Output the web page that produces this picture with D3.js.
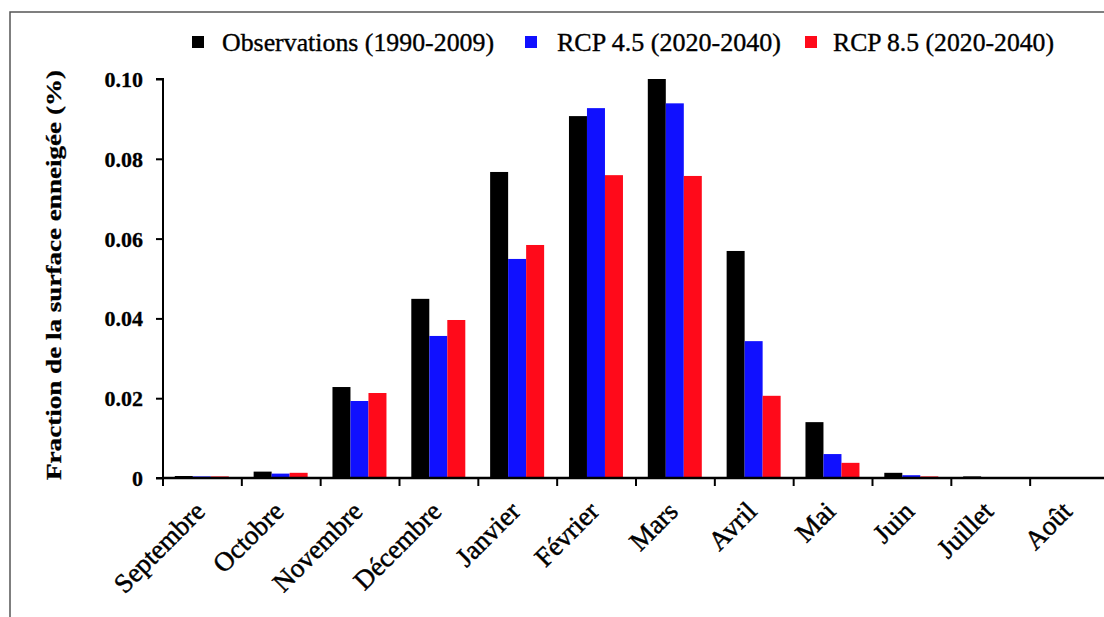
<!DOCTYPE html>
<html><head><meta charset="utf-8">
<script src="https://cdn.jsdelivr.net/npm/d3@7/dist/d3.min.js"></script>
<style>body{margin:0;background:#fff}svg{display:block}</style>
</head><body><svg id="c" width="1104" height="617"></svg>
<script>
const months = ["Septembre","Octobre","Novembre","Décembre","Janvier","Février","Mars","Avril","Mai","Juin","Juillet","Août"];
const seriesNames = ["Observations (1990-2009)","RCP 4.5 (2020-2040)","RCP 8.5 (2020-2040)"];
const seriesColors = ["#000000","#1010ff","#ff0a1a"];
const observations = [0.0005,0.0016,0.0228,0.0449,0.0767,0.0907,0.1000,0.0569,0.0140,0.0013,0.0004,0.0001];
const rcp45 =        [0.0004,0.0011,0.0193,0.0356,0.0549,0.0927,0.0939,0.0343,0.0060,0.0007,0.0001,0.0000];
const rcp85 =        [0.0004,0.0013,0.0213,0.0396,0.0584,0.0759,0.0757,0.0206,0.0038,0.0004,0.0001,0.0000];
const yTicks = [0,0.02,0.04,0.06,0.08,0.10];
const yTickLabels = ["0","0.02","0.04","0.06","0.08","0.10"];
const yTitle = "Fraction de la surface enneigée (%)";

const svg = d3.select("#c");
const serif = "'Liberation Serif','Times New Roman',serif";
const pLeft = 163, pRight = 1109, pTop = 79, pBottom = 478;

// frame
svg.append("path").attr("d","M10,617 V12 H1104").attr("fill","none").attr("stroke","#555").attr("stroke-width",1.5);

const x = d3.scaleBand().domain(months).range([pLeft,pRight]).paddingInner(0).paddingOuter(0);
const x1 = d3.scaleBand().domain([0,1,2]).range([11.8, 65.8]);
const y = d3.scaleLinear().domain([0,0.1]).range([pBottom, pTop]);

const data = [observations, rcp45, rcp85];
const g = svg.append("g");
months.forEach((m,i)=>{
  data.forEach((s,j)=>{
    g.append("rect")
      .attr("x", x(m)+x1(j)).attr("width", x1.bandwidth())
      .attr("y", y(s[i])).attr("height", pBottom - y(s[i]))
      .attr("fill", seriesColors[j]);
  });
});

// y axis
const yAxis = d3.axisLeft(y).tickValues(yTicks).tickFormat((d,i)=>yTickLabels[i]).tickSize(7).tickPadding(13);
const ya = svg.append("g").attr("transform",`translate(${pLeft},0)`).call(yAxis);
ya.select(".domain").attr("stroke","#000").attr("stroke-width",2).attr("d",`M-7,${pTop}H0V${pBottom}H-7`);
ya.selectAll(".tick line").attr("stroke","#000").attr("stroke-width",2);
ya.selectAll(".tick text").attr("font-family",serif).attr("font-weight","bold").attr("font-size",22)
  .attr("fill","#000").attr("stroke","#000").attr("stroke-width",0.3).attr("dy","0.34em");

// x axis
const xa = svg.append("g");
xa.append("line").attr("x1",pLeft).attr("x2",1104).attr("y1",pBottom).attr("y2",pBottom).attr("stroke","#000").attr("stroke-width",2.5);
const bounds = months.map(m=>x(m)).concat([x.range()[1]]);
bounds.forEach(b=>{
  xa.append("line").attr("x1",b).attr("x2",b).attr("y1",pBottom).attr("y2",pBottom+8).attr("stroke","#000").attr("stroke-width",2);
});
months.forEach(m=>{
  const cx = x(m)+x.bandwidth()/2 + 4;
  xa.append("text").attr("transform",`translate(${cx},${pBottom+35}) rotate(-45)`)
    .attr("text-anchor","end")
    .attr("font-family",serif).attr("font-size",27).attr("fill","#000")
    .attr("stroke","#000").attr("stroke-width",0.5).text(m);
});

// y title
svg.append("text").attr("transform","translate(61,275) rotate(-90)").attr("text-anchor","middle")
  .attr("font-family",serif).attr("font-weight","bold").attr("font-size",22)
  .attr("stroke","#000").attr("stroke-width",0.3)
  .attr("textLength",410).attr("lengthAdjust","spacingAndGlyphs").text(yTitle);

// legend
const legX = [192,525,805], legTxtX = [222,557,833], legTxtW = [272,224,221];
seriesNames.forEach((n,j)=>{
  svg.append("rect").attr("x",legX[j]).attr("y",36).attr("width",12).attr("height",12).attr("fill",seriesColors[j]);
  svg.append("text").attr("x",legTxtX[j]).attr("y",51).attr("font-family",serif).attr("font-size",25)
    .attr("stroke","#000").attr("stroke-width",0.35)
    .attr("textLength",legTxtW[j]).attr("lengthAdjust","spacingAndGlyphs").attr("fill","#000").text(n);
});
</script></body></html>
